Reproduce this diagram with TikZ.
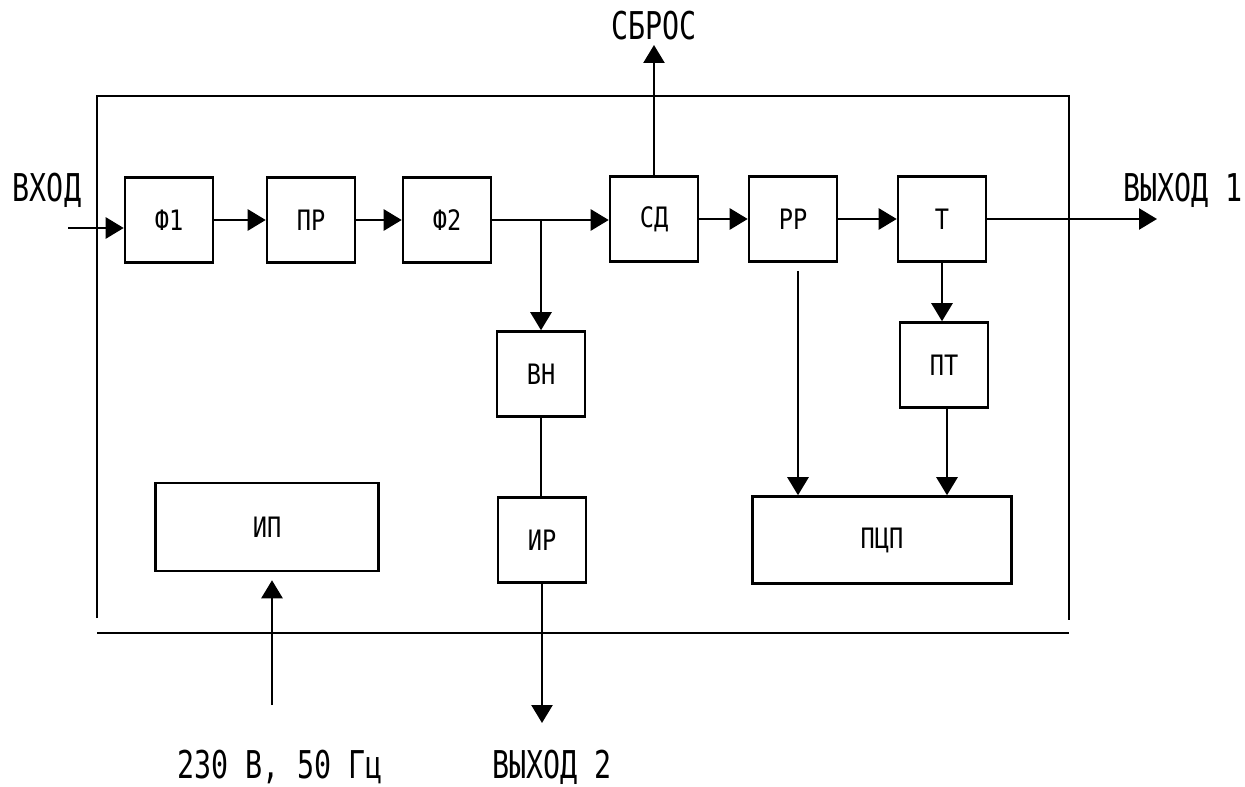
\documentclass[tikz,border=0pt]{standalone}
\usepackage{fontspec}
\newfontfamily\lblfont[FakeStretch=0.74]{DejaVu Sans Mono}
\newfontfamily\boxfont[FakeStretch=0.84]{DejaVu Sans Mono}
\usetikzlibrary{arrows.meta, positioning}
\tikzset{
  every picture/.style={line width=1.45pt},
  blk/.style={draw, minimum width=#1, minimum height=1.7cm, inner sep=0pt,
    font=\boxfont\fontsize{16}{18}\selectfont},
  blk/.default=1.76cm,
  arr/.style={-{Triangle[length=0.36cm, width=0.42cm]}},
  lbl/.style={font=\lblfont\fontsize{21.8}{24}\selectfont, inner sep=0pt, anchor=base},
}

\begin{document}
\begin{tikzpicture}[x=0.02cm, y=-0.02cm]
  \useasboundingbox (0,0) rectangle (1245,787);
  % outer frame
  \draw (97,618) |- (1069,96) -- (1069,620);
  \draw (97,633) -- (1069,633);
  % blocks
  \foreach \n/\x/\y/\t in {
      f1/169/220/Ф1, pr/311/220/ПР, f2/447/220/Ф2,
      sd/654/219/СД, rr/793/219/РР, t/942/219/Т,
      vn/541/374/ВН, ir/542/540/ИР, pt/944/365/ПТ} {
    \node[blk] (\n) at (\x,\y) {\t};
  }
  \node[blk=4.46cm, minimum height=1.76cm] (ip) at (267,527) {ИП};
  \node[blk=5.18cm, minimum height=1.74cm] (pcp) at (882,540) {ПЦП};
  % inputs and outputs
  \coordinate (in) at (68,228);
  \coordinate (rst) at (654,45);
  \coordinate (out1) at (1157,219);
  \coordinate (out2) at (542,723);
  \coordinate (pwr) at (272,705);
  \node[lbl] (inl) at (47,202) {ВХОД};
  \node[lbl] (rstl) at (654,40) {СБРОС};
  \node[lbl] (out1l) at (1183,202) {ВЫХОД 1};
  \node[lbl] (out2l) at (552,778) {ВЫХОД 2};
  \node[lbl] (pwrl) at (280,778) {230 В, 50 Гц};
  % connections
  \draw[arr] (in) -- (in -| f1.west);
  \draw[arr] (f1) -- (pr);
  \draw[arr] (pr) -- (f2);
  \draw[arr] (f2.east) -- (f2.east -| sd.west);
  \draw[arr] (vn |- f2.east) -- (vn.north);
  \draw (vn.south) -- (vn.south |- ir.north);
  \draw[arr] (ir.south) -- (out2);
  \draw[arr] (sd.north) -- (rst);
  \draw[arr] (sd) -- (rr);
  \draw[arr] (rr) -- (t);
  \draw[arr] (t.east) -- (out1);
  \draw[arr] (t.south) -- (t.south |- pt.north);
  \draw[arr] ([xshift=0.06cm]pt.south) -- ([xshift=0.06cm]pt.south |- pcp.north);
  \draw[arr, shorten <=0.16cm] ([xshift=0.1cm]rr.south) -- ([xshift=0.1cm]rr.south |- pcp.north);
  \draw[arr, shorten >=0.16cm] (pwr) -- (pwr |- ip.south);
\end{tikzpicture}
\end{document}
